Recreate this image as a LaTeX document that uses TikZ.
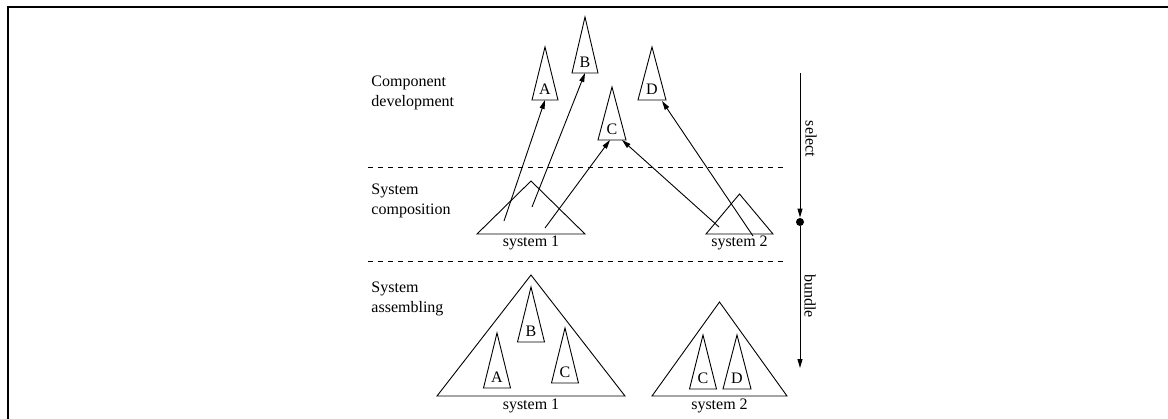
\documentclass[tikz,border=0pt]{standalone}
\usepackage{fontspec}
\setmainfont{Liberation Serif}
\usetikzlibrary{arrows.meta}
\newcommand\mytri[5]{% name, apex x, apex y, half width, base y
  \coordinate (#1-top) at (#2,#3);
  \coordinate (#1-bl) at ({#2-#4},#5);
  \coordinate (#1-br) at ({#2+#4},#5);
  \coordinate (#1-b) at (#2,#5);
  \draw (#1-top) -- (#1-bl) -- (#1-br) -- cycle;
}
\begin{document}
\begin{tikzpicture}[x=1pt,y=-1pt,
  line width=0.9pt,
  lbl/.style={font=\fontsize{16}{19.5}\selectfont, inner sep=0pt},
  side/.style={lbl, align=left, anchor=base west},
  letter/.style={lbl, anchor=base},
  dashline/.style={dash pattern=on 5pt off 5pt},
  arr/.style={-{Triangle[length=9pt,width=5pt]}},
]
\useasboundingbox (0,0) rectangle (1168,418);
\draw[line width=2pt] (8,7) rectangle (1185,435);

% side labels (anchor = baseline of last line)
\node[side] (l1) at (371,106) {Component\\development};
\node[side] (l2) at (371,214) {System\\composition};
\node[side] (l3) at (371,312) {System\\assembling};

% dashed separators
\coordinate (d1a) at (368,167); \coordinate (d1b) at (785,167);
\coordinate (d2a) at (368,261); \coordinate (d2b) at (785,261);
\draw[dashline] (d1a) -- (d1b);
\draw[dashline] (d2a) -- (d2b);

% component development
\mytri{cA}{545}{47}{13}{100}
\mytri{cB}{585}{17}{13}{73}
\mytri{cC}{612}{87}{14}{140}
\mytri{cD}{652}{47}{14}{100}
\node[letter] (tA) at (545,94.5) {A};
\node[letter] (tB) at (585,67.5) {B};
\node[letter] (tC) at (612,134.5) {C};
\node[letter] (tD) at (652,94.5) {D};

% system composition
\mytri{s1}{531}{181}{54}{234}
\mytri{s2}{739.5}{194}{33.5}{234}
\node[letter] (ts1) at (531,246.5) {system 1};
\node[letter] (ts2) at (739.5,246.5) {system 2};

% arrows
\coordinate (pA) at (504,221);
\coordinate (pB) at (532,207);
\coordinate (pC1) at (545,228);
\coordinate (pC2) at (719,227);
\coordinate (pD) at (753,236);
\coordinate (cC-l) at (610,140);
\coordinate (cC-r) at (622,140);
\coordinate (cD-x) at (662,101);
\draw[arr] (pA) -- (cA-b);
\draw[arr] (pB) -- (cB-b);
\draw[arr] (pC1) -- (cC-l);
\draw[arr] (pC2) -- (cC-r);
\draw[arr] (pD) -- (cD-x);

% system assembling
\mytri{b1}{531}{275}{94}{396}
\mytri{b1A}{497}{333}{13.5}{388}
\mytri{b1B}{531}{287}{13.5}{342}
\mytri{b1C}{565}{328}{13.5}{383}
\node[letter] (tb1A) at (497,382) {A};
\node[letter] (tb1B) at (531,336) {B};
\node[letter] (tb1C) at (565,377) {C};
\node[letter] (tb1) at (531,409) {system 1};

\mytri{b2}{719.5}{302}{67.5}{396}
\mytri{b2C}{703}{335}{13.5}{389}
\mytri{b2D}{737}{335}{14}{389}
\node[letter] (tb2C) at (703,383) {C};
\node[letter] (tb2D) at (737,383) {D};
\node[letter] (tb2) at (719.5,409) {system 2};

% process arrow
\coordinate (vtop) at (800,73);
\coordinate (vbot) at (800,368);
\node[circle, fill, inner sep=0pt, minimum size=8pt] (vmid) at (800,222) {};
\draw[arr] (vtop) -- (vmid);
\draw[arr] (vmid) -- (vbot);
\node[lbl, rotate=-90] (sel) at (811,139) {select};
\node[lbl, rotate=-90] (bun) at (810,296) {bundle};
\end{tikzpicture}
\end{document}
